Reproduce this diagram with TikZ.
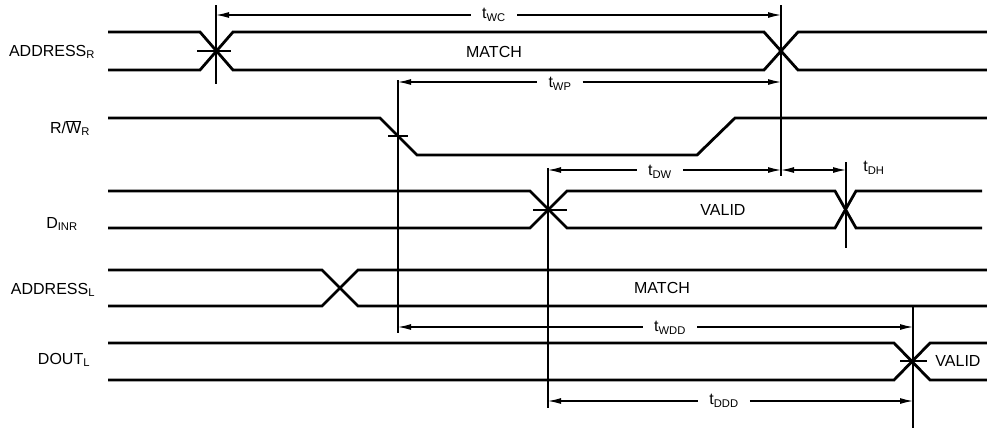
\documentclass[tikz,border=0pt]{standalone}
\usepackage{fontspec}
\setmainfont{Liberation Sans}
\usetikzlibrary{arrows.meta}

\begin{document}
\begin{tikzpicture}[x=1pt, y=-1pt, >={Latex[length=13pt,width=6pt]},
    font=\fontsize{16}{18}\selectfont,
    sig/.style={line width=2.8pt},
    refline/.style={line width=1.2pt},
    dim/.style={line width=1.2pt},
    tlab/.style={inner xsep=11pt, inner ysep=0pt}]
  \useasboundingbox (0,0) rectangle (987,429);

  % Signal names
  \node (adrR) at (52,52)  {ADDRESS\textsubscript{R}};
  \node (rwR)  at (70,128) {R/$\overline{\mbox{W}}$\textsubscript{R}};
  \node (dinR) at (62,224) {D\textsubscript{INR}};
  \node (adrL) at (53,290) {ADDRESS\textsubscript{L}};
  \node (doutL) at (64,360) {DOUT\textsubscript{L}};

  % ADDRESS_R
  \draw[sig] (108,32) -- (200,32) -- (233,70) -- (764,70) -- (798,32) -- (987,32);
  \draw[sig] (108,70) -- (200,70) -- (233,32) -- (764,32) -- (798,70) -- (987,70);
  \node (matchR) at (494,52) {MATCH};

  % R/W_R
  \draw[sig] (108,118) -- (380,118) -- (417,155) -- (697,155) -- (735,118) -- (987,118);

  % D_INR
  \draw[sig] (108,191) -- (530,191) -- (567,228) -- (835,228) -- (856,191) -- (982,191);
  \draw[sig] (108,228) -- (530,228) -- (567,191) -- (835,191) -- (856,228) -- (982,228);
  \node (validR) at (723,210) {VALID};

  % ADDRESS_L
  \draw[sig] (108,270) -- (322,270) -- (358,306) -- (987,306);
  \draw[sig] (108,306) -- (322,306) -- (358,270) -- (987,270);
  \node (matchL) at (662,288) {MATCH};

  % DOUT_L
  \draw[sig] (108,343) -- (894,343) -- (930,380) -- (987,380);
  \draw[sig] (108,380) -- (894,380) -- (930,343) -- (987,343);
  \node (validL) at (958,361) {VALID};

  % Reference lines and crossing ticks
  \draw[refline] (216,5) -- (216,84);
  \draw[refline] (197,51) -- (231,51);
  \draw[refline] (398,80) -- (398,333);
  \draw[refline] (388,136) -- (408,136);
  \draw[refline] (548,168) -- (548,408);
  \draw[refline] (533,210) -- (567,210);
  \draw[refline] (781,5) -- (781,176);
  \draw[refline] (846,162) -- (846,248);
  \draw[refline] (913,307) -- (913,428);
  \draw[refline] (900,361) -- (927,361);

  % Timing end points
  \coordinate (wcA) at (216,15);   \coordinate (wcB) at (781,15);
  \coordinate (wpA) at (398,82);   \coordinate (wpB) at (781,82);
  \coordinate (dwA) at (548,170);  \coordinate (dwB) at (781,170);
  \coordinate (dhB) at (846,170);
  \coordinate (wddA) at (398,327); \coordinate (wddB) at (913,327);
  \coordinate (dddA) at (548,401); \coordinate (dddB) at (913,401);

  % Timing parameters
  \node[tlab] (twc) at (494,15) {t\textsubscript{WC}};
  \draw[dim,<-] (wcA) -- (twc);
  \draw[dim,->] (twc) -- (wcB);

  \node[tlab] (twp) at (560,84) {t\textsubscript{WP}};
  \draw[dim,<-] (wpA) -- (wpA -| twp.west);
  \draw[dim,->] (wpB -| twp.east) -- (wpB);

  \node[tlab] (tdw) at (660,172) {t\textsubscript{DW}};
  \draw[dim,<-] (dwA) -- (dwA -| tdw.west);
  \draw[dim,->] (dwB -| tdw.east) -- (dwB);
  \draw[dim,<->] (dwB) -- (dhB);
  \node (tdh) at (874,168) {t\textsubscript{DH}};

  \node[tlab] (twdd) at (670,328) {t\textsubscript{WDD}};
  \draw[dim,<-] (wddA) -- (wddA -| twdd.west);
  \draw[dim,->] (wddB -| twdd.east) -- (wddB);

  \node[tlab] (tddd) at (724,401) {t\textsubscript{DDD}};
  \draw[dim,<-] (dddA) -- (dddA -| tddd.west);
  \draw[dim,->] (dddB -| tddd.east) -- (dddB);
\end{tikzpicture}
\end{document}
